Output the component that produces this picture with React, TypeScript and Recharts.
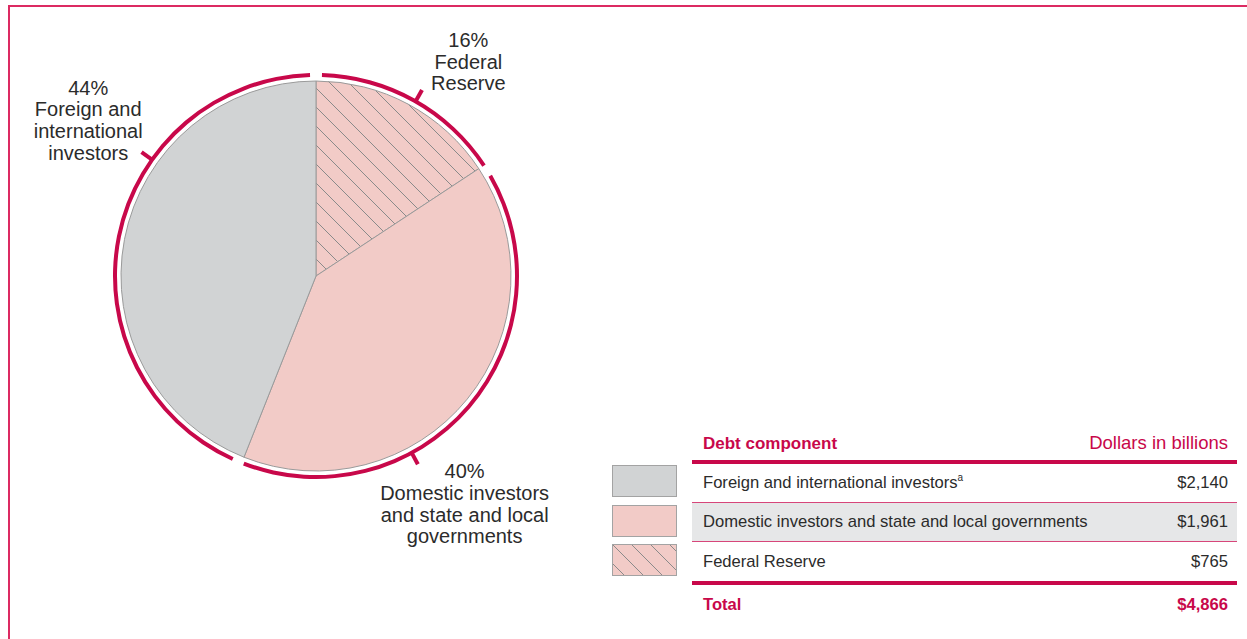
import { PieChart, Pie, Cell } from "recharts";

// debt components, table order
const components = [
  "Foreign and international investors",
  "Domestic investors and state and local governments",
  "Federal Reserve",
];
const dollars = [2140, 1961, 765];
const footnotes = ["a", "", ""];
const calloutText = [
  ["Foreign and", "international", "investors"],
  ["Domestic investors", "and state and local", "governments"],
  ["Federal", "Reserve"],
];
const headerLeft = "Debt component";
const headerRight = "Dollars in billions";
const totalLabel = "Total";

// pie goes clockwise from 12 o'clock: Federal Reserve, Domestic, Foreign
const pieOrder = [2, 1, 0];

const crimson = "#c8084a";
const textColor = "#2b2b2b";
const font = "'Liberation Sans', Arial, Helvetica, sans-serif";
const fills = ["#d1d3d4", "#f2cbc7", "url(#hatchPie)"];

// callout tweaks (degrees clockwise, relative to slice middle) + label radius
const tickShift = [24, 21, 0.5];
const labelShift = [23, 16.3, 6.2];
const labelRadius = [276, 272, 263];

const CX = 316;
const CY = 276;
const RING_PAD = 3.4;

const fmt = (v: number) => "$" + v.toLocaleString("en-US");

const pieData = pieOrder.map((i) => ({ name: components[i], value: dollars[i], idx: i }));
const total = dollars.reduce((a, b) => a + b, 0);

function polar(cx: number, cy: number, r: number, a: number) {
  const rad = (a * Math.PI) / 180;
  return { x: cx + r * Math.sin(rad), y: cy - r * Math.cos(rad) };
}

function Callout(props: any) {
  const { cx, cy, midAngle, index, percent } = props;
  const d = pieData[index];
  const i = d.idx;
  const mid = 90 - midAngle;
  const t = mid + tickShift[i];
  const p1 = polar(cx, cy, 202, t);
  const p2 = polar(cx, cy, 214, t);
  const lp = polar(cx, cy, labelRadius[i], mid + labelShift[i]);
  const lines = [Math.round(percent * 100) + "%", ...calloutText[i]];
  const lh = 21.7;
  return (
    <g>
      <line x1={p1.x} y1={p1.y} x2={p2.x} y2={p2.y} stroke={crimson} strokeWidth={4} />
      {lines.map((s, k) => (
        <text
          key={k}
          x={lp.x}
          y={lp.y + (k - (lines.length - 1) / 2) * lh}
          textAnchor="middle"
          dominantBaseline="central"
          fontSize={20}
          fontFamily={font}
          fill={textColor}
        >
          {s}
        </text>
      ))}
    </g>
  );
}

function HatchSwatch() {
  return (
    <svg width={63} height={30} style={{ display: "block" }}>
      <defs>
        <pattern id="hatchSwatch" patternUnits="userSpaceOnUse" width={19} height={19}>
          <rect width={19} height={19} fill="#f2cbc7" />
          <path d="M0,0 L19,19 M18,-1 L20,1 M-1,18 L1,20" stroke="#8a8a8a" strokeWidth={1} />
        </pattern>
      </defs>
      <rect width={63} height={30} fill="url(#hatchSwatch)" />
    </svg>
  );
}

const rowLine = (h: number, c: string) => <div style={{ height: h, background: c }} />;

export default function App() {
  return (
    <div
      style={{
        position: "absolute",
        left: 0,
        top: 0,
        width: 1247,
        height: 639,
        background: "#fff",
        overflow: "hidden",
        fontFamily: font,
      }}
    >
      <div style={{ position: "absolute", left: 8, top: 5, right: 0, height: 2, background: "#dc2a62" }} />
      <div style={{ position: "absolute", left: 8, top: 5, bottom: 0, width: 2, background: "#dc2a62" }} />

      <div style={{ position: "absolute", left: 0, top: 0 }}>
        <PieChart width={640} height={639} margin={{ top: 0, right: 0, bottom: 0, left: 0 }}>
          <defs>
            <pattern id="hatchPie" patternUnits="userSpaceOnUse" width={19} height={19}>
              <rect width={19} height={19} fill="#f2cbc7" />
              <path d="M0,0 L19,19 M18,-1 L20,1 M-1,18 L1,20" stroke="#8a8a8a" strokeWidth={1} />
            </pattern>
          </defs>
          <Pie
            data={pieData}
            dataKey="value"
            nameKey="name"
            cx={CX}
            cy={CY}
            outerRadius={195}
            startAngle={90}
            endAngle={-270}
            stroke="#9a9a9a"
            strokeWidth={1}
            isAnimationActive={false}
            labelLine={false}
          >
            {pieData.map((d) => (
              <Cell key={d.name} fill={fills[d.idx]} />
            ))}
          </Pie>
          <Pie
            data={pieData}
            dataKey="value"
            nameKey="name"
            cx={CX}
            cy={CY}
            innerRadius={199}
            outerRadius={203}
            startAngle={90 - RING_PAD / 2}
            endAngle={-270 - RING_PAD / 2}
            paddingAngle={RING_PAD}
            fill={crimson}
            stroke="none"
            isAnimationActive={false}
            labelLine={false}
            label={Callout}
          />
        </PieChart>
      </div>

      {/* legend swatches */}
      {components.map((c, i) => (
        <div
          key={c}
          style={{
            position: "absolute",
            left: 612,
            top: 465 + i * 39.5,
            width: 63,
            height: 30,
            border: "1px solid #a3a3a3",
            background: i === 2 ? "none" : fills[i],
          }}
        >
          {i === 2 && <HatchSwatch />}
        </div>
      ))}

      {/* table */}
      <div style={{ position: "absolute", left: 692, top: 432, width: 545, fontSize: 16.6, color: textColor }}>
        <div
          style={{
            height: 28,
            lineHeight: "22px",
            display: "flex",
            justifyContent: "space-between",
            alignItems: "baseline",
            padding: "0 9px 0 11px",
            color: crimson,
          }}
        >
          <span style={{ fontWeight: "bold", fontSize: 17 }}>{headerLeft}</span>
          <span style={{ fontSize: 18.5 }}>{headerRight}</span>
        </div>
        {rowLine(4, crimson)}
        {components.map((c, i) => (
          <div key={c}>
            <div
              style={{
                height: i === 2 ? 39 : 38,
                lineHeight: i === 2 ? "39px" : "38px",
                display: "flex",
                justifyContent: "space-between",
                padding: "0 9px 0 11px",
                background: i === 1 ? "#e6e7e8" : "transparent",
              }}
            >
              <span>
                {c}
                {footnotes[i] && (
                  <sup style={{ fontSize: 10, lineHeight: 0, verticalAlign: "7px" }}>{footnotes[i]}</sup>
                )}
              </span>
              <span>{fmt(dollars[i])}</span>
            </div>
            {i < 2 && rowLine(1, "#d7467a")}
          </div>
        ))}
        {rowLine(4, crimson)}
        <div
          style={{
            height: 40,
            lineHeight: "40px",
            display: "flex",
            justifyContent: "space-between",
            padding: "0 9px 0 11px",
            color: crimson,
            fontWeight: "bold",
          }}
        >
          <span>{totalLabel}</span>
          <span>{fmt(total)}</span>
        </div>
      </div>
    </div>
  );
}
